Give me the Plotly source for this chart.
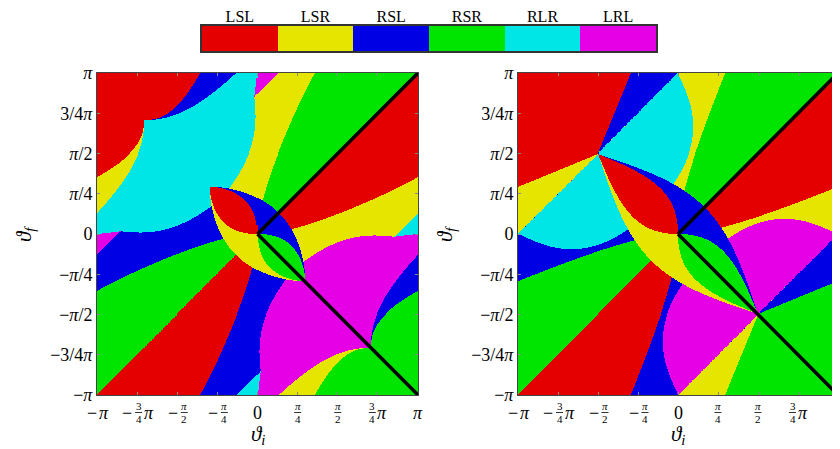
import numpy as np
import plotly.graph_objects as go

# ---------------- data ----------------
categories = ["LSL", "LSR", "RSL", "RSR", "RLR", "LRL"]
cat_colors = ["rgb(229,0,0)", "rgb(229,229,0)", "rgb(0,0,229)",
              "rgb(0,229,0)", "rgb(0,229,229)", "rgb(229,0,229)"]
# normalised distance between start and goal for the two panels
panel_distance = [1.6, 2.0]
grid_n = 320

ytick_vals = [np.pi, 0.75*np.pi, 0.5*np.pi, 0.25*np.pi, 0, -0.25*np.pi, -0.5*np.pi, -0.75*np.pi, -np.pi]
ytick_text = ["<i>π</i>", "3/4<i>π</i>", "<i>π</i>/2", "<i>π</i>/4", "0",
              "−<i>π</i>/4", "−<i>π</i>/2", "−3/4<i>π</i>", "−<i>π</i>"]
xtick_vals = [-np.pi, -0.75*np.pi, -0.5*np.pi, -0.25*np.pi, 0, 0.25*np.pi, 0.5*np.pi, 0.75*np.pi, np.pi]
xtick_sign = ["−", "−", "−", "−", "", "", "", "", ""]
xtick_num = ["", "3", "<i>π</i>", "<i>π</i>", "", "<i>π</i>", "<i>π</i>", "3", ""]
xtick_den = ["", "4", "2", "4", "", "4", "2", "4", ""]
xtick_tail = ["<i>π</i>", "<i>π</i>", "", "", "0", "", "", "<i>π</i>", "<i>π</i>"]

diag_x = [0, np.pi]
diag_up_y = [0, np.pi]
diag_down_y = [0, -np.pi]


# ---------------- Dubins classification ----------------
def mod2pi(v):
    return np.mod(v, 2*np.pi)


def dubins_type(a, b, d):
    sa, sb, ca, cb = np.sin(a), np.sin(b), np.cos(a), np.cos(b)
    cab = np.cos(a - b)
    INF = np.inf
    L = np.full((6,) + a.shape, INF)
    # LSL
    p2 = 2 + d*d - 2*cab + 2*d*(sa - sb)
    t1 = np.arctan2(cb - ca, d + sa - sb)
    L[0] = np.where(p2 >= 0, mod2pi(-a + t1) + np.sqrt(np.maximum(p2, 0)) + mod2pi(b - t1), INF)
    # LSR
    p2 = -2 + d*d + 2*cab + 2*d*(sa + sb)
    p = np.sqrt(np.maximum(p2, 0))
    t2 = np.arctan2(-ca - cb, d + sa + sb) - np.arctan2(-2.0, p)
    L[1] = np.where(p2 >= 0, mod2pi(-a + t2) + p + mod2pi(-b + t2), INF)
    # RSL
    p2 = d*d - 2 + 2*cab - 2*d*(sa + sb)
    p = np.sqrt(np.maximum(p2, 0))
    t2 = np.arctan2(ca + cb, d - sa - sb) - np.arctan2(2.0, p)
    L[2] = np.where(p2 >= 0, mod2pi(a - t2) + p + mod2pi(b - t2), INF)
    # RSR
    p2 = 2 + d*d - 2*cab + 2*d*(sb - sa)
    t1 = np.arctan2(ca - cb, d - sa + sb)
    L[3] = np.where(p2 >= 0, mod2pi(a - t1) + np.sqrt(np.maximum(p2, 0)) + mod2pi(-b + t1), INF)
    # RLR
    tmp = (6 - d*d + 2*cab + 2*d*(sa - sb))/8
    ok = np.abs(tmp) <= 1
    p = mod2pi(2*np.pi - np.arccos(np.clip(tmp, -1, 1)))
    t = mod2pi(a - np.arctan2(ca - cb, d - sa + sb) + p/2)
    q = mod2pi(a - b - t + p)
    L[4] = np.where(ok, t + p + q, INF)
    # LRL
    tmp = (6 - d*d + 2*cab + 2*d*(sb - sa))/8
    ok = np.abs(tmp) <= 1
    p = mod2pi(2*np.pi - np.arccos(np.clip(tmp, -1, 1)))
    t = mod2pi(-a - np.arctan2(ca - cb, d + sa - sb) + p/2)
    q = mod2pi(b - a - t + p)
    L[5] = np.where(ok, t + p + q, INF)
    return np.argmin(L, axis=0)


grid = -np.pi + (np.arange(grid_n) + 0.5)*2*np.pi/grid_n
TI, TF = np.meshgrid(grid, grid)

colorscale = []
for k, c in enumerate(cat_colors):
    colorscale.append([k/6, c])
    colorscale.append([(k+1)/6, c])

# the page body has an 8px margin: the figure is placed at (8, 8)
OFF = 8
W, H = 840 - OFF, 449 - OFF
FONT = "Liberation Serif, DejaVu Serif, serif"


def px(xp):
    return (xp - OFF)/W


def py(yp):
    return 1 - (yp - OFF)/H


fig = go.Figure()
panels = [("x", "y", 97, 418), ("x2", "y2", 518, 838)]
for (xa, ya, x0, x1), d in zip(panels, panel_distance):
    z = dubins_type(TI, TF, d)
    fig.add_trace(go.Heatmap(x=grid, y=grid, z=z, xaxis=xa, yaxis=ya, zmin=-0.5, zmax=5.5,
                             colorscale=colorscale, showscale=False, zsmooth=False, hoverinfo="skip"))
    fig.add_trace(go.Scatter(x=diag_x, y=diag_up_y, xaxis=xa, yaxis=ya, mode="lines",
                             line=dict(color="black", width=3.5), showlegend=False, hoverinfo="skip"))
    fig.add_trace(go.Scatter(x=diag_x, y=diag_down_y, xaxis=xa, yaxis=ya, mode="lines",
                             line=dict(color="black", width=3.5), showlegend=False, hoverinfo="skip"))

# legend bar
fig.add_trace(go.Heatmap(z=[list(range(6))], x=categories, y=[0], xaxis="x3", yaxis="y3",
                         zmin=-0.5, zmax=5.5, colorscale=colorscale, showscale=False, hoverinfo="skip"))

axis_common = dict(showline=True, linecolor="#444", linewidth=1, mirror="ticks", ticks="inside",
                   ticklen=3, tickcolor="#888", showgrid=False, zeroline=False, automargin=False,
                   range=[-np.pi, np.pi], tickvals=xtick_vals, tickfont=dict(size=18))
layout = dict(width=W, height=H, margin=dict(l=0, r=0, t=0, b=0, pad=0, autoexpand=False),
              paper_bgcolor="white", plot_bgcolor="white", showlegend=False,
              font=dict(family=FONT, size=14, color="black"))
layout["xaxis"] = dict(axis_common, domain=[px(97), px(418)], anchor="y", showticklabels=False)
layout["yaxis"] = dict(axis_common, domain=[py(395), py(73)], anchor="x",
                       tickvals=ytick_vals, ticktext=ytick_text)
layout["xaxis2"] = dict(axis_common, domain=[px(518), px(838)], anchor="y2", showticklabels=False)
layout["yaxis2"] = dict(axis_common, domain=[py(395), py(73)], anchor="x2",
                        tickvals=ytick_vals, ticktext=ytick_text)
layout["xaxis3"] = dict(domain=[px(202), px(656)], anchor="y3", side="top", showline=True,
                        linecolor="#333", linewidth=1.5, mirror=True, ticks="", showgrid=False,
                        zeroline=False, tickfont=dict(size=16), automargin=False,
                        ticklabelstandoff=-4)
layout["yaxis3"] = dict(domain=[py(51), py(26)], anchor="x3", showline=True, linecolor="#333",
                        linewidth=1.5, mirror=True, showticklabels=False, ticks="", showgrid=False,
                        zeroline=False, automargin=False)
fig.update_layout(**layout)

# x tick labels with stacked fractions
annotations = []
shapes = []
W_SIGN, W_FRAC, W_TAIL, GAP = 12, 7, 9, 2
for xa, ya, x0, x1 in panels:
    for v, s, n, dd, tl in zip(xtick_vals, xtick_sign, xtick_num, xtick_den, xtick_tail):
        parts = []
        if s:
            parts.append(("sign", W_SIGN))
        if n:
            parts.append(("frac", W_FRAC))
        if tl:
            parts.append(("tail", W_TAIL))
        total = sum(w for _, w in parts) + GAP*(len(parts)-1)
        off = -total/2
        for kind, w in parts:
            c = off + w/2
            if kind == "sign":
                annotations.append(dict(text=s, x=v, xref=xa, xshift=c, y=py(413), yref="paper",
                                        showarrow=False, font=dict(size=18), xanchor="center", yanchor="middle"))
            elif kind == "tail":
                annotations.append(dict(text=tl, x=v, xref=xa, xshift=c, y=py(413), yref="paper",
                                        showarrow=False, font=dict(size=18), xanchor="center", yanchor="middle"))
            else:
                annotations.append(dict(text=n, x=v, xref=xa, xshift=c, y=py(406), yref="paper",
                                        showarrow=False, font=dict(size=11), xanchor="center", yanchor="middle"))
                annotations.append(dict(text=dd, x=v, xref=xa, xshift=c, y=py(418.5), yref="paper",
                                        showarrow=False, font=dict(size=11), xanchor="center", yanchor="middle"))
                shapes.append(dict(type="line", xref=xa, xsizemode="pixel", xanchor=v,
                                   x0=c - 3.5, x1=c + 3.5, yref="paper", y0=py(412.5), y1=py(412.5),
                                   line=dict(color="black", width=0.8)))
            off += w + GAP
    # axis titles
    annotations.append(dict(text="<i>ϑ</i><sub><i>i</i></sub>", x=px((x0 + x1)/2), xref="paper",
                            y=py(435), yref="paper", showarrow=False, font=dict(size=21),
                            xanchor="center", yanchor="middle"))
    annotations.append(dict(text="<i>ϑ</i><sub><i>f</i></sub>", x=px(x0 - 72), xref="paper",
                            y=py(234), yref="paper", showarrow=False, font=dict(size=21),
                            textangle=-90, xanchor="center", yanchor="middle"))

fig.update_layout(annotations=annotations, shapes=shapes)
fig.write_html("out.html")
